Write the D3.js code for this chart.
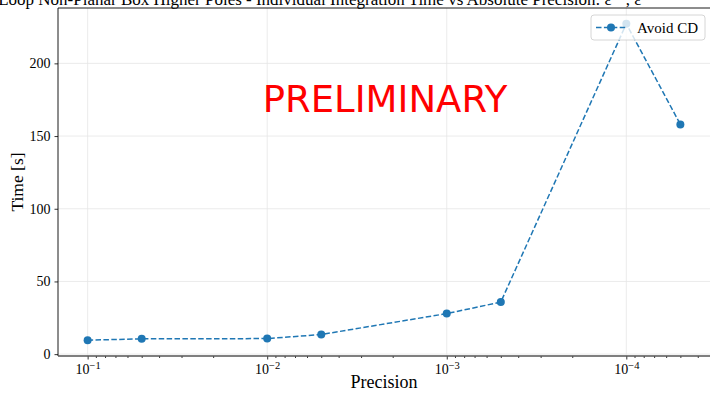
<!DOCTYPE html>
<html>
<head>
<meta charset="utf-8">
<script src="https://cdn.jsdelivr.net/npm/d3@7"></script>
<style>
body { margin: 0; background: #fff; }
svg { display: block; }
.tick text { font-family: "Liberation Serif", "DejaVu Serif", serif; }
</style>
</head>
<body>
<div id="chart"></div>
<script>
// data
var precision = [1e-1, 5e-2, 1e-2, 5e-3, 1e-3, 5e-4, 1e-4, 5e-5];
var timeAvoidCD = [9.6, 10.5, 10.7, 13.5, 27.9, 35.8, 227.2, 158.0];
var xTickValues = [1e-1, 1e-2, 1e-3, 1e-4];
var xTickExp = ["−1", "−2", "−3", "−4"];
var yTickValues = [0, 50, 100, 150, 200];
var seriesName = "Avoid CD";

var width = 710, height = 395;
var margin = {top: 8, right: 0, bottom: 39, left: 58};
var serif = '"Liberation Serif", "DejaVu Serif", serif';
var blue = "#1f77b4";

var svg = d3.select("#chart").append("svg")
    .attr("width", width)
    .attr("height", height);

// matplotlib-like 5% margins (log space for x)
var lx0 = Math.log10(d3.max(precision)), lx1 = Math.log10(d3.min(precision));
var padX = (lx0 - lx1) * 0.05;
var x = d3.scaleLog()
    .domain([Math.pow(10, lx0 + padX), Math.pow(10, lx1 - padX)])
    .range([margin.left, width - margin.right]);

var ymin = d3.min(timeAvoidCD), ymax = d3.max(timeAvoidCD);
var padY = (ymax - ymin) * 0.05;
var y = d3.scaleLinear()
    .domain([ymin - padY, ymax + padY])
    .range([height - margin.bottom, margin.top]);

// grid
var grid = svg.append("g").attr("id", "grid");
grid.selectAll("line.gx")
    .data(xTickValues)
    .enter().append("line")
    .attr("x1", function (d) { return x(d); })
    .attr("x2", function (d) { return x(d); })
    .attr("y1", margin.top)
    .attr("y2", height - margin.bottom)
    .attr("stroke", "#e6e6e6")
    .attr("stroke-width", 0.8);
grid.selectAll("line.gy")
    .data(yTickValues)
    .enter().append("line")
    .attr("x1", margin.left)
    .attr("x2", width - margin.right)
    .attr("y1", function (d) { return y(d); })
    .attr("y2", function (d) { return y(d); })
    .attr("stroke", "#e6e6e6")
    .attr("stroke-width", 0.8);

// PRELIMINARY watermark
svg.append("text")
    .attr("x", 385)
    .attr("y", 112)
    .attr("text-anchor", "middle")
    .attr("font-family", '"DejaVu Sans", sans-serif')
    .attr("font-size", 37)
    .attr("fill", "red")
    .text("PRELIMINARY");

// line + markers
var line = d3.line()
    .x(function (d, i) { return x(precision[i]); })
    .y(function (d) { return y(d); });

svg.append("path")
    .datum(timeAvoidCD)
    .attr("d", line)
    .attr("fill", "none")
    .attr("stroke", blue)
    .attr("stroke-width", 1.5)
    .attr("stroke-dasharray", "5.5,2.4");

svg.append("g").attr("id", "points")
    .selectAll("circle")
    .data(timeAvoidCD)
    .enter().append("circle")
    .attr("cx", function (d, i) { return x(precision[i]); })
    .attr("cy", function (d) { return y(d); })
    .attr("r", 4)
    .attr("fill", blue);

// x axis with log minor ticks
var minor = [];
for (var e = -5; e <= 0; e++) {
    for (var k = 2; k <= 9; k++) {
        var v = k * Math.pow(10, e - 1);
        if (v <= x.domain()[0] && v >= x.domain()[1]) minor.push(v);
    }
}
var gx = svg.append("g")
    .attr("transform", "translate(0," + (height - margin.bottom) + ")");
gx.append("g")
    .call(d3.axisBottom(x).tickValues(minor).tickSize(2).tickFormat(""))
    .call(function (g) { g.select(".domain").remove(); });
var gxMaj = gx.append("g")
    .call(d3.axisBottom(x).tickValues(xTickValues).tickSize(3.5).tickFormat(""));
gxMaj.select(".domain").remove();
gxMaj.selectAll(".tick text").remove();
gxMaj.selectAll(".tick").append("text")
    .attr("y", 18)
    .attr("fill", "#000")
    .attr("text-anchor", "middle")
    .attr("font-size", 14)
    .each(function (d, i) {
        var t = d3.select(this);
        t.append("tspan").text("10");
        t.append("tspan").attr("dy", -5).attr("font-size", 10.5).text(xTickExp[i]);
    });
gx.selectAll(".tick line").attr("stroke", "#000").attr("stroke-width", 0.8);

// y axis
var gy = svg.append("g")
    .attr("transform", "translate(" + margin.left + ",0)")
    .call(d3.axisLeft(y).tickValues(yTickValues).tickSize(3.5).tickPadding(4));
gy.select(".domain").remove();
gy.selectAll(".tick text").attr("font-size", 14).attr("fill", "#000");
gy.selectAll(".tick line").attr("stroke", "#000").attr("stroke-width", 0.8);

// spines
var spines = svg.append("g").attr("stroke", "#000").attr("stroke-width", 0.9);
spines.append("line").attr("x1", margin.left).attr("x2", width)
    .attr("y1", margin.top).attr("y2", margin.top);
spines.append("line").attr("x1", margin.left).attr("x2", margin.left)
    .attr("y1", margin.top).attr("y2", height - margin.bottom);
spines.append("line").attr("x1", margin.left).attr("x2", width)
    .attr("y1", height - margin.bottom).attr("y2", height - margin.bottom)
    .attr("stroke", "#555").attr("stroke-width", 1.6);

// axis labels
svg.append("text")
    .attr("x", (margin.left + width) / 2)
    .attr("y", 388)
    .attr("text-anchor", "middle")
    .attr("font-family", serif)
    .attr("font-size", 18)
    .text("Precision");
svg.append("text")
    .attr("transform", "translate(23," + ((margin.top + height - margin.bottom) / 2) + ") rotate(-90)")
    .attr("text-anchor", "middle")
    .attr("font-family", serif)
    .attr("font-size", 17.5)
    .text("Time [s]");

// title (cut off at the top of the image, as in the original)
svg.append("text")
    .attr("x", -16)
    .attr("y", 5)
    .attr("font-family", serif)
    .attr("font-size", 17)
    .text("2-Loop Non-Planar Box Higher Poles - Individual Integration Time vs Absolute Precision: ε⁻¹, ε⁻²");

// legend
var lg = svg.append("g").attr("transform", "translate(591,15)");
lg.append("rect")
    .attr("width", 114).attr("height", 25).attr("rx", 3)
    .attr("fill", "#fff").attr("fill-opacity", 0.8)
    .attr("stroke", "#ccc").attr("stroke-width", 0.8);
lg.append("line")
    .attr("x1", 5).attr("x2", 35).attr("y1", 12.5).attr("y2", 12.5)
    .attr("stroke", blue).attr("stroke-width", 1.5).attr("stroke-dasharray", "5.5,2.4");
lg.append("circle").attr("cx", 20).attr("cy", 12.5).attr("r", 4).attr("fill", blue);
lg.append("text")
    .attr("x", 46).attr("y", 17.5)
    .attr("font-family", serif)
    .attr("font-size", 15)
    .text(seriesName);
</script>
</body>
</html>
